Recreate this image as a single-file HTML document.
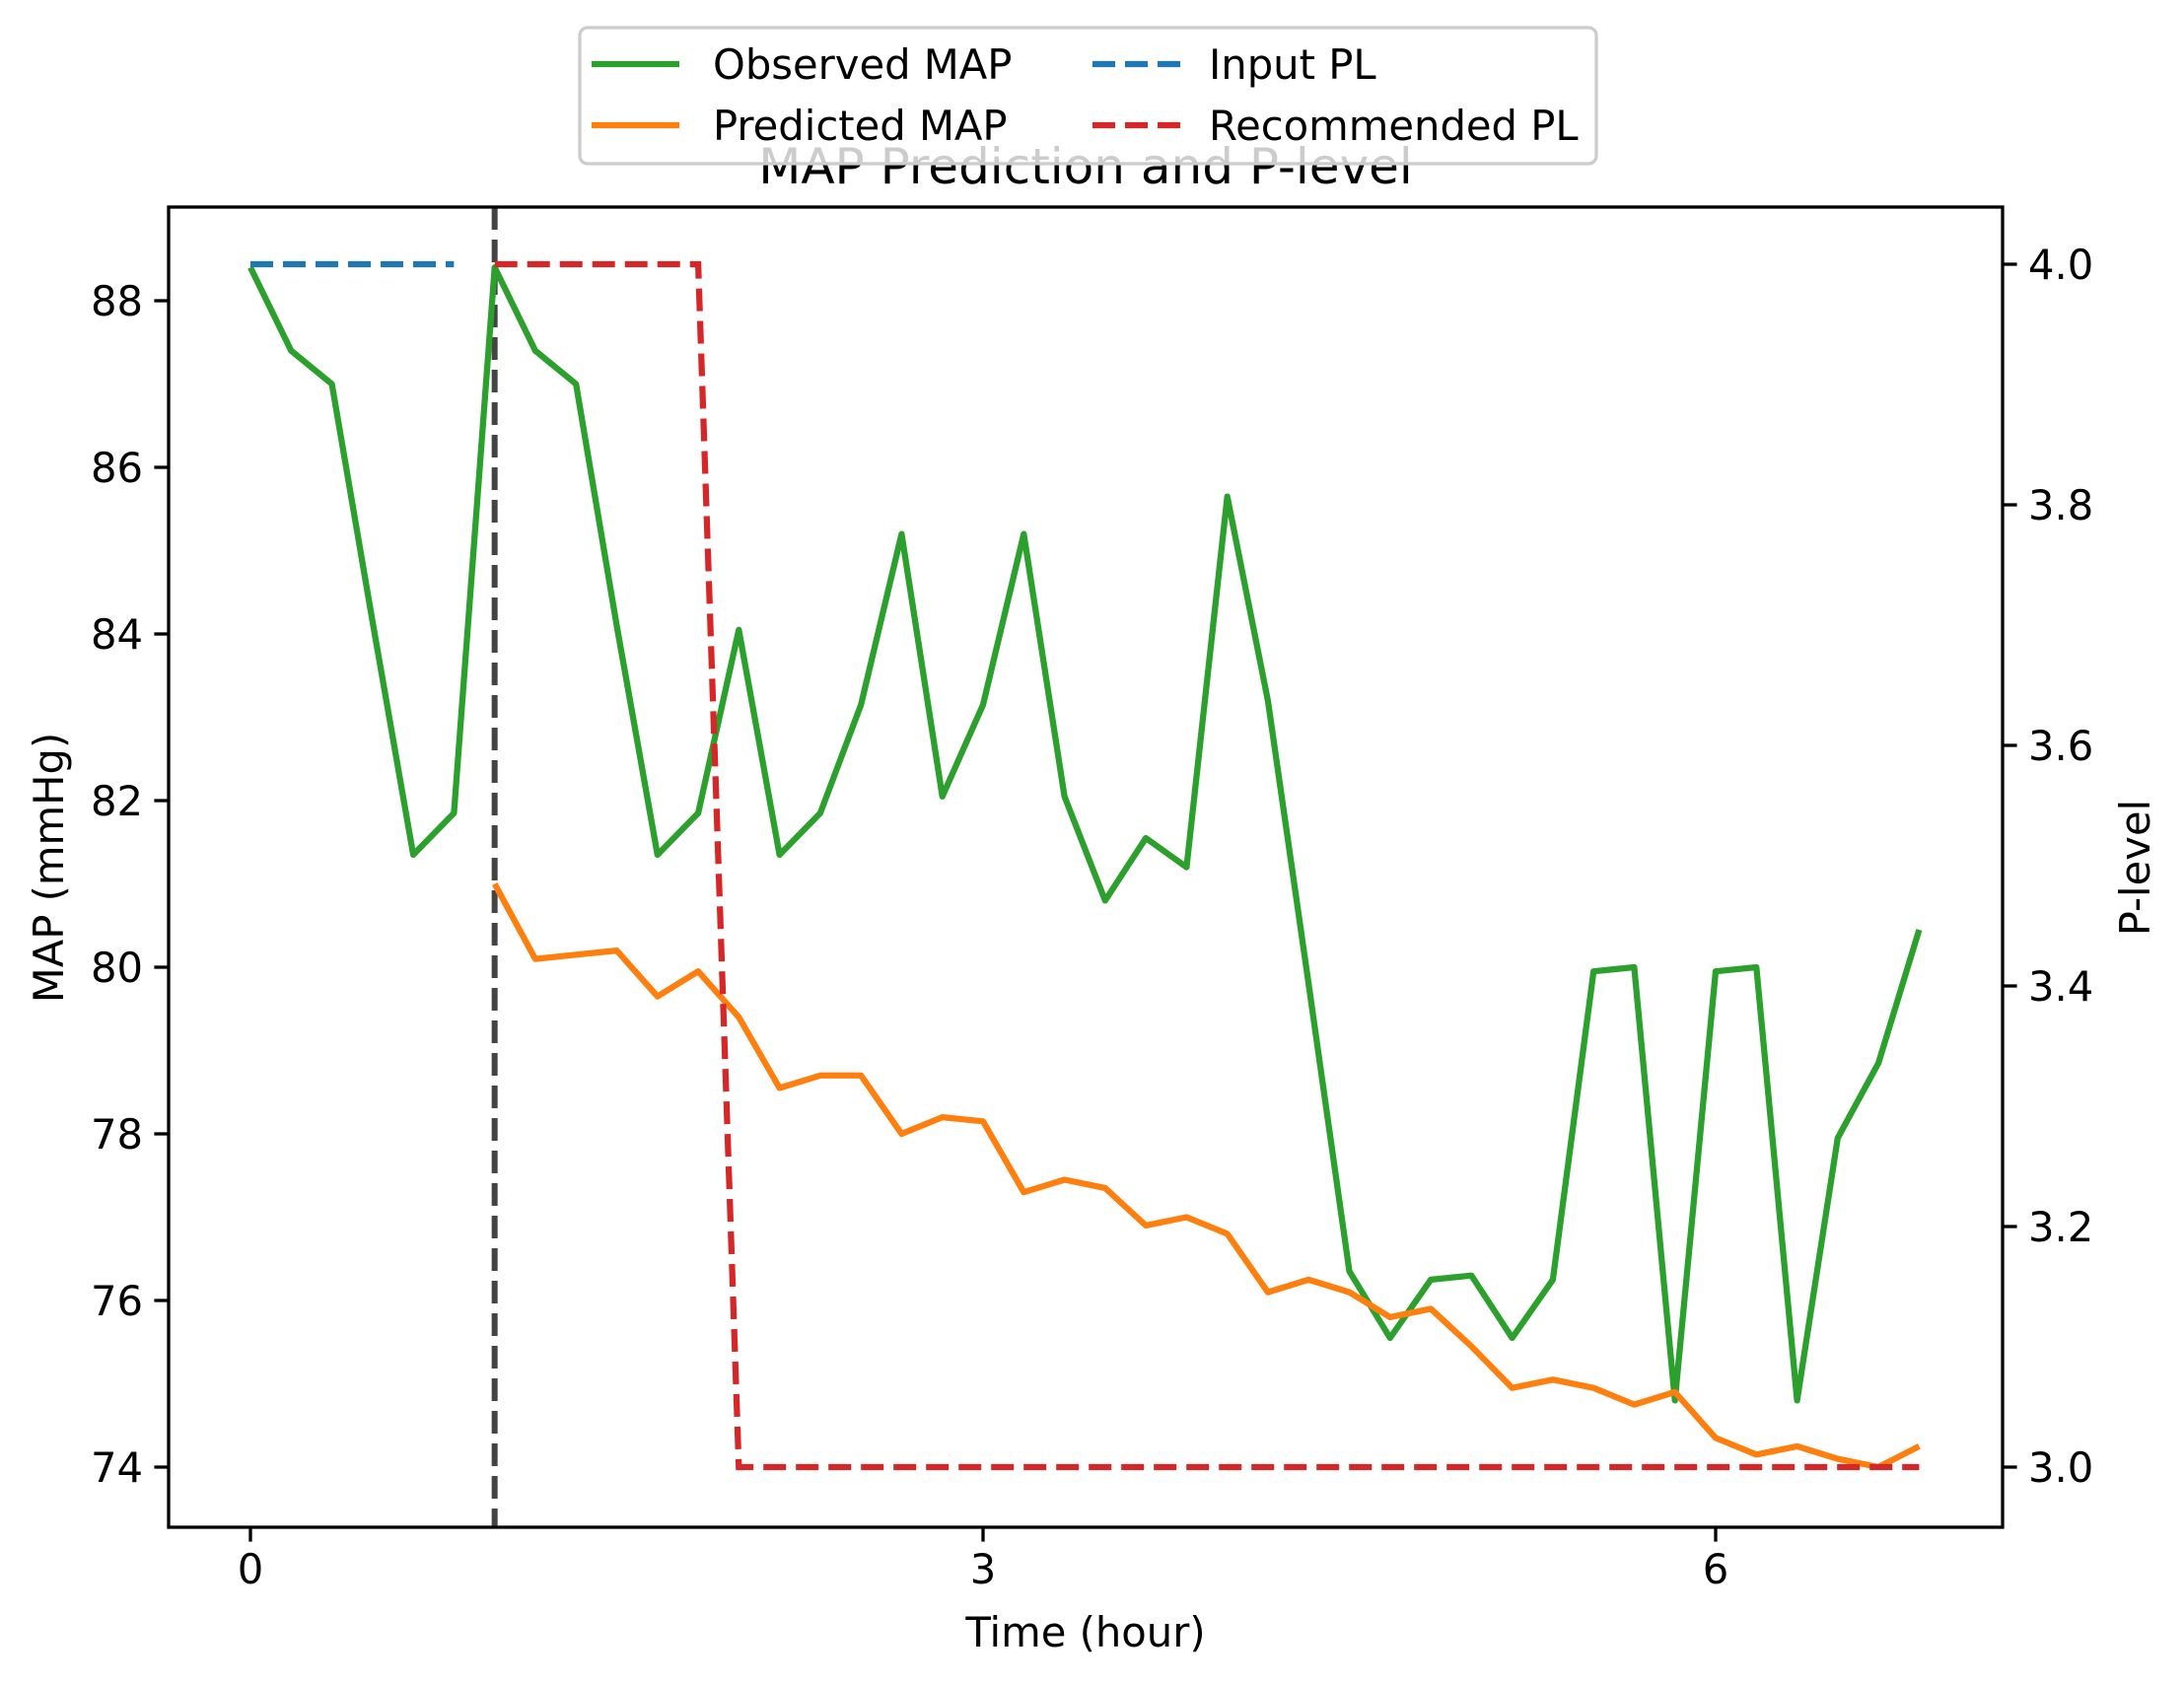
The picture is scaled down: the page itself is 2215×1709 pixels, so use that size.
<!DOCTYPE html>
<html><head><meta charset="utf-8">
<style>
html,body{margin:0;padding:0;background:#fff;}
svg{display:block;font-family:"DejaVu Sans","Liberation Sans",sans-serif;}
</style></head>
<body>
<svg id="chart" width="2215" height="1709" viewBox="0 0 2215 1709" xmlns="http://www.w3.org/2000/svg">
<rect width="2215" height="1709" fill="#fff"/>
<g id="plot"></g>
</svg>
<script>
const observedMAP = [88.4,87.4,87.0,84.15,81.35,81.85,88.4,87.4,87.0,84.1,81.35,81.85,84.05,81.35,81.85,83.15,85.2,82.05,83.15,85.2,82.05,80.8,81.55,81.2,85.65,83.2,79.8,76.35,75.55,76.25,76.3,75.55,76.25,79.95,80.0,74.8,79.95,80.0,74.8,77.95,78.85,80.45];
const predictedMAP = [81.0,80.1,80.15,80.2,79.65,79.95,79.4,78.55,78.7,78.7,78.0,78.2,78.15,77.3,77.45,77.35,76.9,77.0,76.8,76.1,76.25,76.1,75.8,75.9,75.45,74.95,75.05,74.95,74.75,74.9,74.35,74.15,74.25,74.1,74.0,74.25];
const predictedStart = 6;
const inputPL = [4,4,4,4,4,4];
const recommendedPL = [4,4,4,4,4,4,3,3,3,3,3,3,3,3,3,3,3,3,3,3,3,3,3,3,3,3,3,3,3,3,3,3,3,3,3,3];
const stepHours = 1/6;
const decisionTime = 1;
const leftTicks = [74,76,78,80,82,84,86,88];
const rightTicks = [3.0,3.2,3.4,3.6,3.8,4.0];
const xTicks = [0,3,6];

const L=171,R=2031,T=210,B=1549;
const xS=t=>254+(t-0)*(1740-254)/6;
const yL=v=>1488+(v-74)*(305-1488)/14;
const yR=v=>1488+(v-3)*(268-1488)/1;
const NS='http://www.w3.org/2000/svg';
const g=document.getElementById('plot');
function mk(tag,attrs,parent){const e=document.createElementNS(NS,tag);for(const k in attrs)e.setAttribute(k,attrs[k]);(parent||g).appendChild(e);return e;}
function pts(arr,off,sc){return arr.map((v,i)=>xS((i+off)*stepHours).toFixed(1)+','+sc(v).toFixed(1)).join(' ');}

let e;
e=mk('line',{x1:xS(decisionTime),x2:xS(decisionTime),y1:T,y2:B,stroke:'#444444','stroke-width':6,'stroke-dasharray':'23,10'});


e=mk('polyline',{points:pts(observedMAP,0,yL),fill:'none',stroke:'#2ca02c','stroke-width':6.25,'stroke-linejoin':'round'});


e=mk('polyline',{points:pts(predictedMAP,predictedStart,yL),fill:'none',stroke:'#ff7f0e','stroke-width':6.25,'stroke-linejoin':'round'});


e=mk('polyline',{points:pts(inputPL,0,yR),fill:'none',stroke:'#1f77b4','stroke-width':6.25,'stroke-dasharray':'23,10'});


e=mk('polyline',{points:pts(recommendedPL,predictedStart,yR),fill:'none',stroke:'#d62728','stroke-width':6.25,'stroke-dasharray':'23,10'});



e=mk('rect',{x:L,y:T,width:R-L,height:B-T,fill:'none',stroke:'#000','stroke-width':3.3});



leftTicks.forEach(v=>{const y=yL(v);
 e=mk('line',{x1:L-14.6,x2:L,y1:y,y2:y,stroke:'#000','stroke-width':3.3});
 
 
 e=mk('text',{x:L-26,y:y+15,'text-anchor':'end','font-size':41.7,fill:'#000'});e.textContent=v;
 
 
});
rightTicks.forEach(v=>{const y=yR(v);
 e=mk('line',{x1:R,x2:R+14.6,y1:y,y2:y,stroke:'#000','stroke-width':3.3});
 
 
 e=mk('text',{x:R+26,y:y+15,'text-anchor':'start','font-size':41.7,fill:'#000'});e.textContent=v.toFixed(1);
 
 
});
xTicks.forEach(v=>{const x=xS(v);
 e=mk('line',{x1:x,x2:x,y1:B,y2:B+14.6,stroke:'#000','stroke-width':3.3});
 
 
 e=mk('text',{x:x,y:B+57,'text-anchor':'middle','font-size':41.7,fill:'#000'});e.textContent=v;
 
 
});

e=mk('text',{x:1101,y:1670,'text-anchor':'middle','font-size':41.7});e.textContent='Time (hour)';


e=mk('text',{x:0,y:0,'text-anchor':'middle','font-size':41.7,transform:'translate(64,880) rotate(-90)'});e.textContent='MAP (mmHg)';


e=mk('text',{x:0,y:0,'text-anchor':'middle','font-size':41.7,transform:'translate(2180,880) rotate(-90)'});e.textContent='P-level';


e=mk('text',{x:1101,y:186,'text-anchor':'middle','font-size':50});e.textContent='MAP Prediction and P-level';



const lg=mk('g',{});


mk('rect',{x:588,y:28,width:1031,height:138,rx:8,fill:'#fff','fill-opacity':0.8,stroke:'#cccccc','stroke-width':3.3},lg);
const legItems=[['Observed MAP','#2ca02c',false,600,723,65],['Predicted MAP','#ff7f0e',false,600,723,127],['Input PL','#1f77b4',true,1108,1226,65],['Recommended PL','#d62728',true,1108,1226,127]];
legItems.forEach(([lab,c,d,hx,tx,y])=>{
 const it=mk('g',{},lg);
 
 
 const a={x1:hx,x2:hx+89,y1:y,y2:y,stroke:c,'stroke-width':6.25};if(d)a['stroke-dasharray']='23,10';
 mk('line',a,it);
 const t=mk('text',{x:tx,y:y+15,'font-size':41.7},it);t.textContent=lab;
});
</script>
</body></html>
